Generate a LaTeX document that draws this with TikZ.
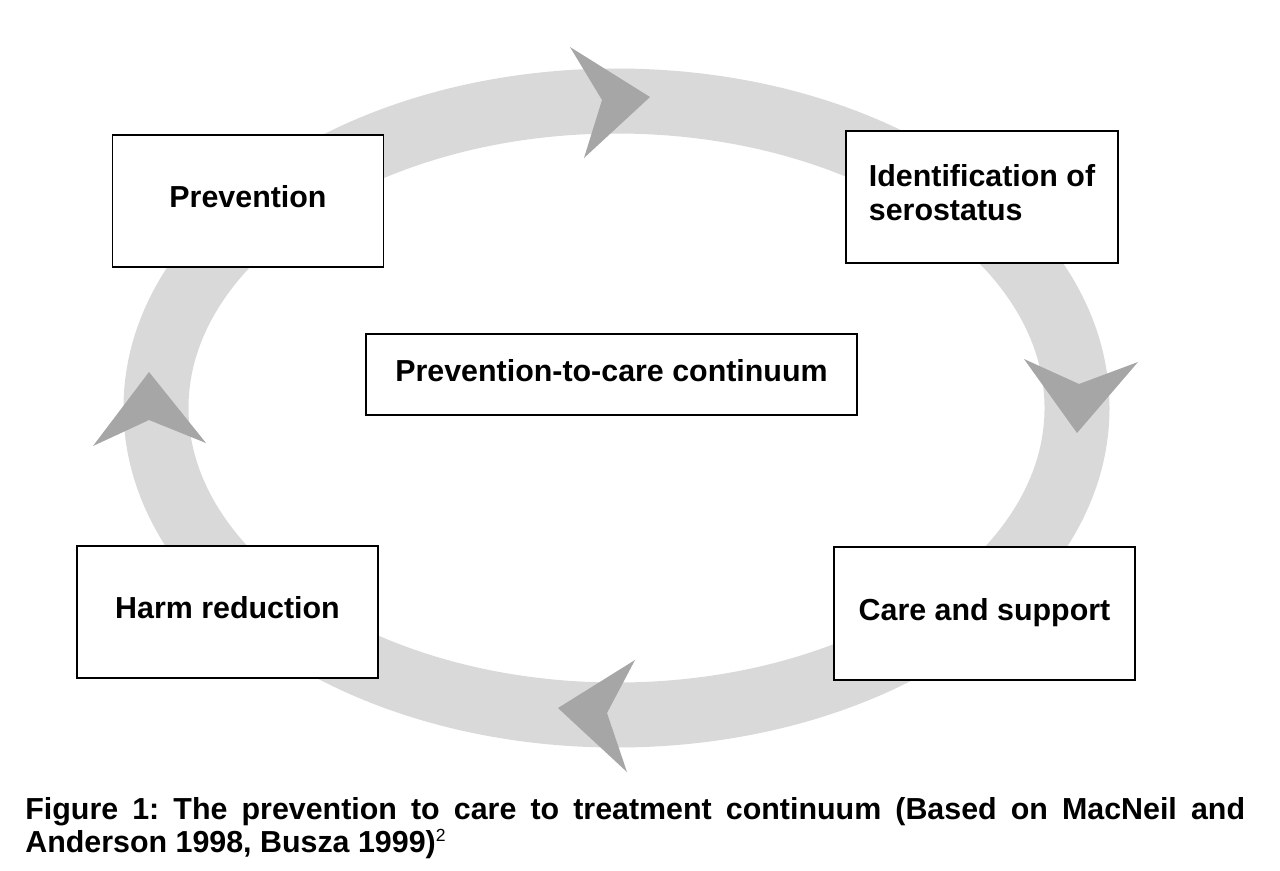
\documentclass[tikz,border=0pt]{standalone}
\usepackage{fontspec}
\setmainfont{Liberation Sans}
\usepackage{tikz}
\definecolor{ring-grey}{HTML}{D9D9D9}
\definecolor{chevron-grey}{HTML}{A6A6A6}
\frenchspacing

\begin{document}
\begin{tikzpicture}[x=0.02cm, y=-0.02cm,
    box/.style={draw=black, line width=0.9pt, fill=white, inner sep=0pt,
        minimum height=2.64cm, text depth=0.18cm,
        font=\fontsize{17.3}{19.3}\selectfont\bfseries},
    chevron/.style={fill=chevron-grey, draw=none}]
    \useasboundingbox[fill=white] (0,0) rectangle (1280,870);
    % the cycle
    \draw[ring-grey, line width=1.3cm] (616.5,408) ellipse [x radius=460.5, y radius=307];
    \fill[chevron] (570,47) -- (650,97) -- (584,158) -- (602,100) -- cycle;
    \fill[chevron] (1024,359) -- (1079,384) -- (1138,362) -- (1077,433) -- cycle;
    \fill[chevron] (635,660) -- (558,708) -- (627,772) -- (607,713) -- cycle;
    \fill[chevron] (149,372) -- (206,443) -- (149,420) -- (93,446) -- cycle;
    % the stages
    \node[box, minimum width=5.42cm] (prevention) at (248,201) {Prevention};
    \node[box, minimum width=5.44cm, align=left] (serostatus) at (982,197) {Identification of\\serostatus};
    \node[box, minimum width=6.02cm, minimum height=2.66cm] (care) at (984.5,613.5) {Care and support};
    \node[box, minimum width=6.02cm] (harm) at (227.5,612) {Harm reduction};
    \node[box, minimum width=9.82cm, minimum height=1.62cm] (continuum) at (611.5,374.5) {Prevention-to-care continuum};
    % caption
    \node[anchor=base west, inner sep=0pt, text width=24.4cm, align=justify,
        font=\fontsize{17.3}{19.3}\selectfont\bfseries] (caption) at (25,819)
        {Figure 1: The prevention to care to treatment continuum (Based on MacNeil and\linebreak
        Anderson 1998, Busza 1999)\textsuperscript{\mdseries\fontsize{10}{10}\selectfont 2}};
\end{tikzpicture}
\end{document}
